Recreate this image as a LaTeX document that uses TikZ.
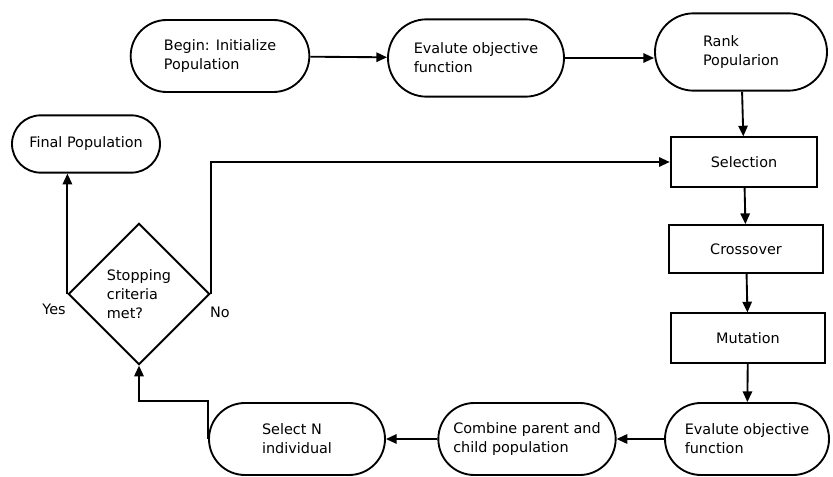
\documentclass[tikz,border=0pt]{standalone}
\usepackage{fontspec}
\setmainfont{DejaVu Sans}
\usetikzlibrary{arrows.meta,positioning,shapes.geometric,shapes.misc}

\tikzset{
    term/.style={rounded rectangle,draw,line width=1.4pt,align=left,inner sep=2pt},
    procbox/.style={rectangle,draw,line width=1.4pt,align=center,inner sep=2pt},
    decision/.style={diamond,draw,line width=1.4pt,align=left,inner sep=0pt},
    flow/.style={line width=1.4pt,-{Triangle[length=8pt,width=7pt]}}
}

\begin{document}
\begin{tikzpicture}[x=0.75pt,y=-0.75pt,font=\fontsize{10.8}{14.2}\selectfont]
    \useasboundingbox (0,0) rectangle (833,477);

    % Top row
    \node[term,minimum width=138pt,minimum height=54pt] (begin) at (220,56) {Begin: Initialize\\Population};
    \node[term,minimum width=136pt,minimum height=58pt] (evalA) at (476,58) {Evalute objective\\function};
    \node[term,minimum width=133pt,minimum height=58pt] (rank) at (741,52) {Rank\\Popularion};

    % Right column
    \node[procbox,minimum width=110pt,minimum height=37pt] (sel) at (744,162) {Selection};
    \node[procbox,minimum width=115pt,minimum height=36pt] (cross) at (746,249) {Crossover};
    \node[procbox,minimum width=116pt,minimum height=37pt] (mut) at (748,338) {Mutation};

    % Bottom row
    \node[term,minimum width=127pt,minimum height=54pt] (evalB) at (747,439) {Evalute objective\\function};
    \node[term,minimum width=137pt,minimum height=54pt] (comb) at (527,439) {Combine parent and\\child population};
    \node[term,minimum width=136pt,minimum height=54pt] (selN) at (297,439) {Select N\\individual};

    % Decision and end
    \node[decision,minimum width=106pt,minimum height=106pt] (dec) at (139,294) {Stopping\\criteria\\met?};
    \node[term,minimum width=115pt,minimum height=43pt] (final) at (86,144) {Final Population};

    \node (yes) at (54,309) {Yes};
    \node (no) at (220,312) {No};

    % Arrows
    \draw[flow] (begin) -- (evalA);
    \draw[flow] (evalA) -- (evalA -| rank.west);
    \draw[flow] (rank) -- (sel);
    \draw[flow] (sel) -- (cross);
    \draw[flow] (cross) -- (mut);
    \draw[flow] (mut) -- (evalB);
    \draw[flow] (evalB) -- (comb);
    \draw[flow] (comb) -- (selN);
    \draw[flow] (selN.west) -- ++(0,-38) -| (dec.south);
    \draw[flow] (dec.west) -- (dec.west |- final.south);
    \draw[flow] (dec.east) |- (sel.west);
\end{tikzpicture}
\end{document}
